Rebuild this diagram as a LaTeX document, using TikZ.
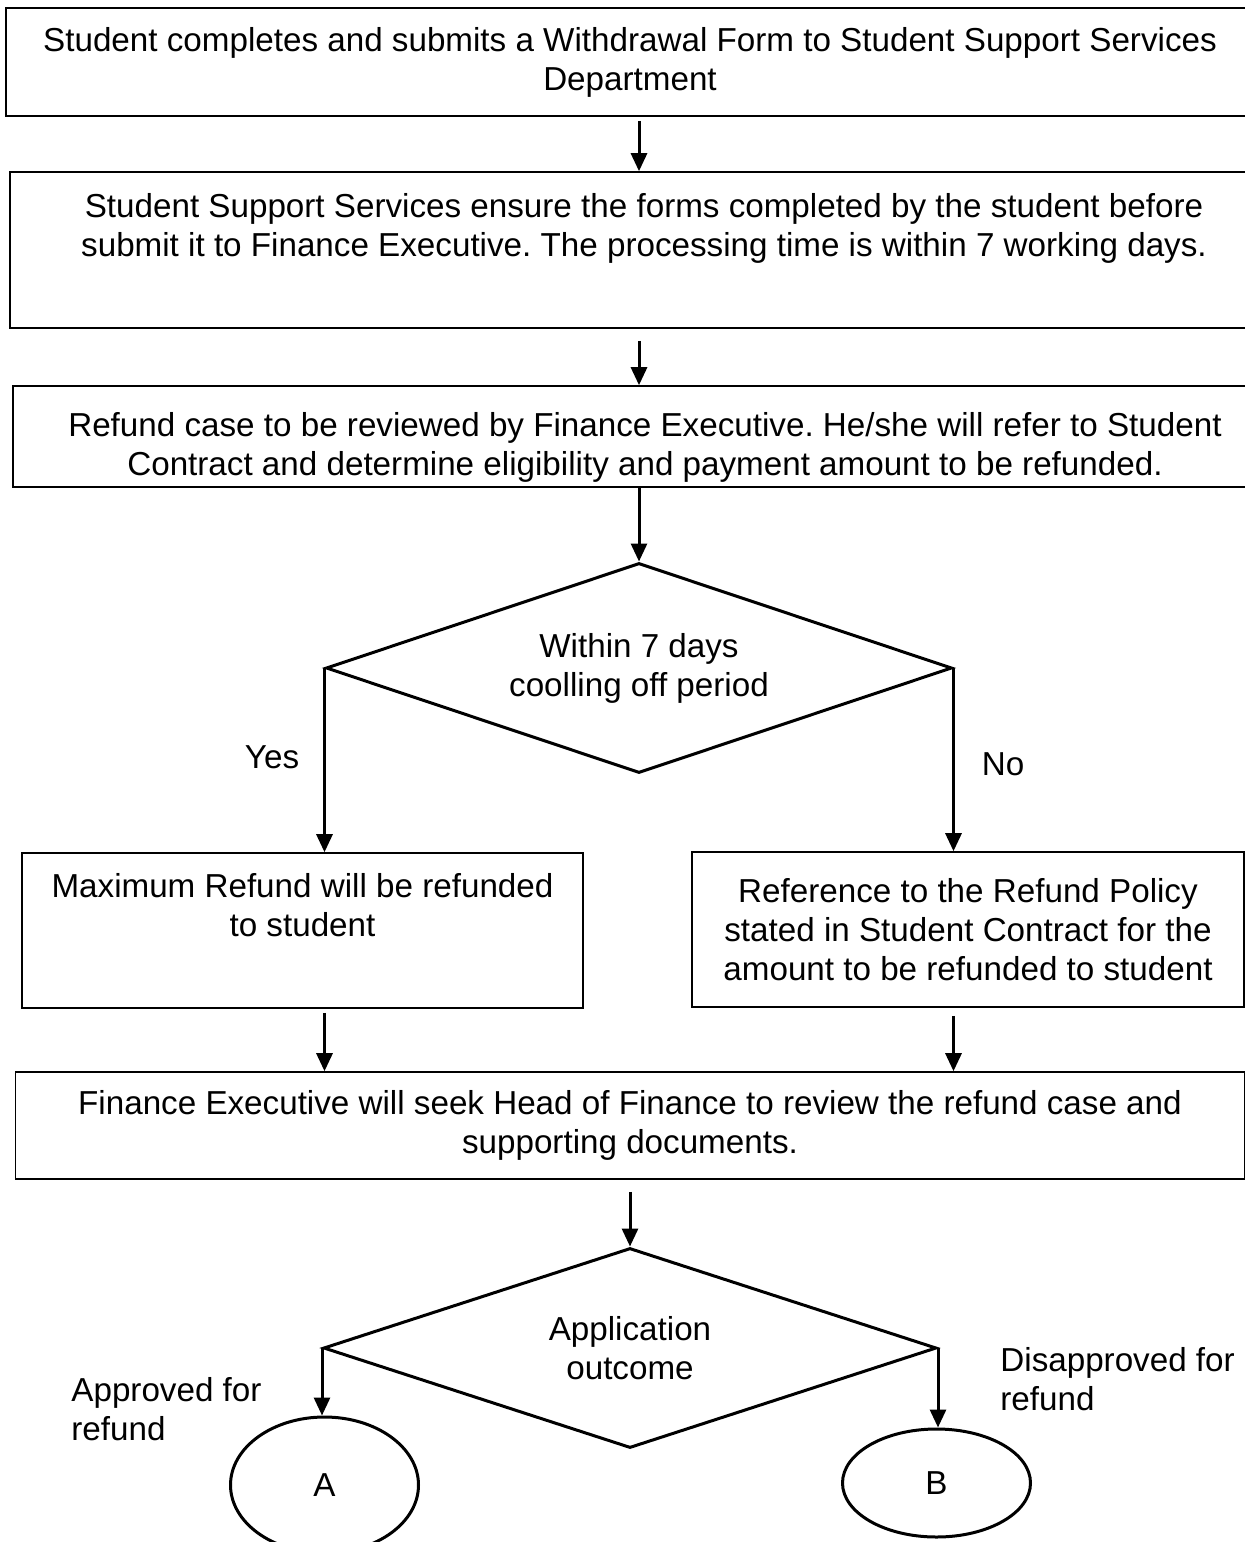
\documentclass[tikz,border=0pt]{standalone}
\usepackage{fontspec}
\setmainfont{Liberation Sans}
\frenchspacing
\usetikzlibrary{arrows.meta,calc,positioning,shapes.geometric}
\tikzset{%
	block/.style    = {draw, rectangle, line width=0.8pt, align=center, inner sep=0pt},
	decision/.style = {draw, diamond, aspect=3, line width=1.5pt, align=center, inner sep=0pt},
	conn/.style     = {draw, ellipse, line width=1.5pt, inner sep=0pt}, % connector
	note/.style     = {align=left, inner sep=0pt}, % branch text
	arrow/.style    = {line width=1.5pt,->},
}

\begin{document}
\begin{tikzpicture}[node distance=94pt,auto,>={Triangle[length=9pt,width=8pt]},font=\fontsize{16.6}{19.5}\selectfont]
	\useasboundingbox (0,0) rectangle (622.5pt,-771pt);
	\node [block, minimum width=624pt, minimum height=54pt] (sub) at (315pt,-31pt) {Student completes and submits a Withdrawal Form to Student Support Services\\Department};
	\node [block, minimum width=634pt, minimum height=78pt] (ens) [below of=sub, xshift=7pt] {Student Support Services ensure the forms completed by the student before\\submit it to Finance Executive. The processing time is within 7 working days.\\ \strut};
	\node [block, minimum width=632pt, minimum height=50.5pt] (rev) [below of=ens, node distance=93.25pt, xshift=0.5pt] {\mbox{}\\[3.5pt]Refund case to be reviewed by Finance Executive. He/she will refer to Student\\Contract and determine eligibility and payment amount to be refunded.};
	\node [decision, minimum width=313pt, minimum height=105pt] (cool) [below of=rev, node distance=115.75pt, xshift=-3pt] {Within 7 days\\coolling off period};
	\node [block, minimum width=280.5pt, minimum height=77.5pt] (yes) [below of=cool, node distance=131.25pt, xshift=-168.25pt] {Maximum Refund will be refunded\\to student\\ \strut};
	\node [block, minimum width=276pt, minimum height=77.5pt] (no) [below of=cool, node distance=130.75pt, xshift=164.5pt] {Reference to the Refund Policy\\stated in Student Contract for the\\amount to be refunded to student};
	\node [block, minimum width=614.5pt, minimum height=53.5pt] (seek) [below of=cool, node distance=228.75pt, xshift=-4.5pt] {Finance Executive will seek Head of Finance to review the refund case and\\supporting documents.};
	\node [decision, minimum width=306.5pt, minimum height=100pt] (out) [below of=seek, node distance=111.25pt] {Application\\outcome};
	\node [conn, minimum width=94pt, minimum height=68pt] (a) [below of=out, node distance=68.5pt, xshift=-152.75pt] {A};
	\node [conn, minimum width=94pt, minimum height=54pt] (b) [below of=out, node distance=67.5pt, xshift=153.25pt] {B};
	
	\node [note] (ylab) at (136pt,-378.5pt) {Yes};
	\node [note] (nlab) at (501.5pt,-382pt) {No};
	\node [note, anchor=west] (alab) at (35.5pt,-704.5pt) {Approved for\\refund};
	\node [note, anchor=west] (dlab) at (500pt,-689.5pt) {Disapproved for\\refund};
	
	\draw[arrow] ([yshift=-2pt]sub.south -| cool.north) -- (ens.north -| cool.north);
	\draw[arrow] ([yshift=-6pt]ens.south -| cool.north) -- (rev.north -| cool.north);
	\draw[arrow] (rev.south -| cool.north) -- (cool.north);
	\draw[arrow] (cool.west) -- (yes.north -| cool.west);
	\draw[arrow] (cool.east) -- (no.north -| cool.east);
	\draw[arrow] ([yshift=-2pt]yes.south -| cool.west) -- (seek.north -| cool.west);
	\draw[arrow] ([yshift=-4pt]no.south -| cool.east) -- (seek.north -| cool.east);
	\draw[arrow] ([yshift=-6pt]seek.south -| out.north) -- (out.north);
	\draw[arrow] (out.west) -- (a.north -| out.west);
	\draw[arrow] (out.east) -- (b.north -| out.east);
\end{tikzpicture}
\end{document}
